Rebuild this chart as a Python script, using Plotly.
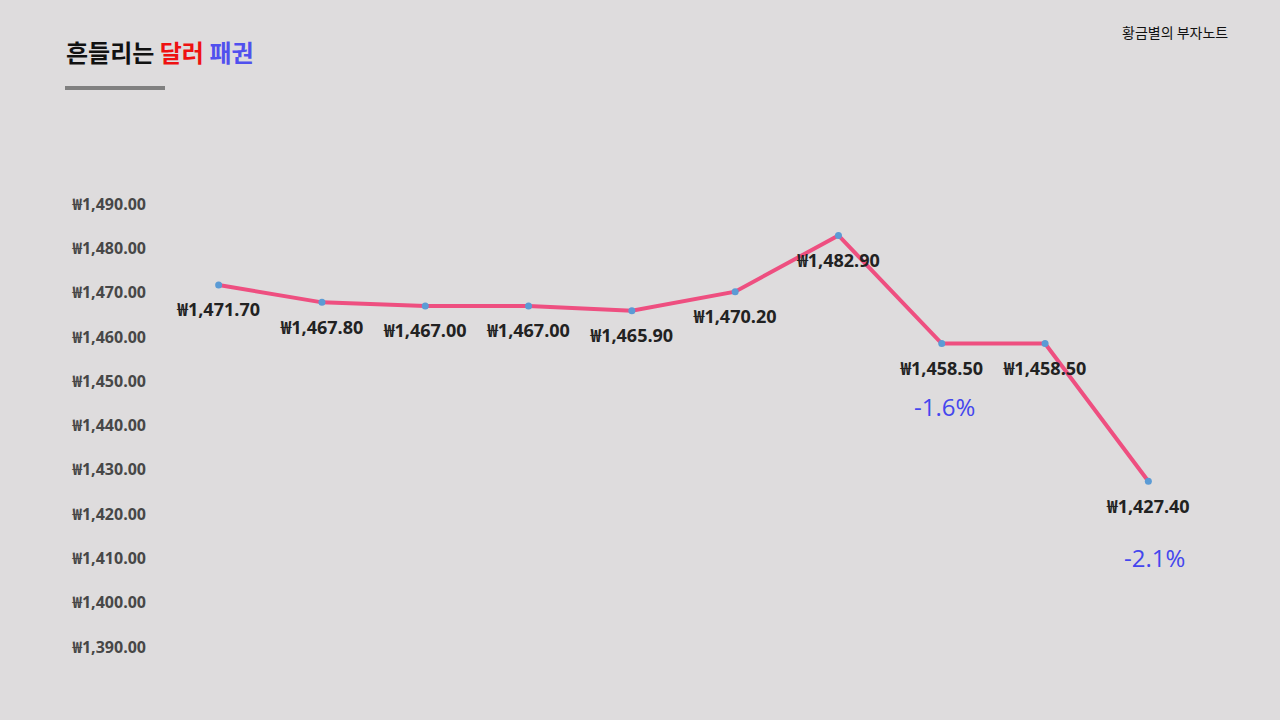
import plotly.graph_objects as go

idx = list(range(10))
values = [1471.70, 1467.80, 1467.00, 1467.00, 1465.90, 1470.20, 1482.90, 1458.50, 1458.50, 1427.40]
labels = ["₩{:,.2f}".format(v) for v in values]
tick_vals = [1390, 1400, 1410, 1420, 1430, 1440, 1450, 1460, 1470, 1480, 1490]
tick_text = ["₩{:,.2f}".format(v) for v in tick_vals]
pct_x = [7.03, 9.06]
pct_y = [1444.4, 1410.3]
pct_text = ["-1.6%", "-2.1%"]

BG = "#DEDCDD"
FONT = "Noto Sans CJK KR"
NUMFONT = "Open Sans, Noto Sans CJK KR"

fig = go.Figure()
fig.add_trace(go.Scatter(
    x=idx, y=values, mode="lines+markers",
    line=dict(color="#EE4F80", width=4),
    marker=dict(color="#5B9BD5", size=7),
    cliponaxis=False, hoverinfo="skip",
))
# value labels (invisible larger markers push the text further below the points)
fig.add_trace(go.Scatter(
    x=idx, y=values, mode="markers+text",
    marker=dict(color="rgba(0,0,0,0)", size=27),
    text=labels, textposition="bottom center",
    textfont=dict(family=NUMFONT, size=18, color="#222222", weight=700),
    cliponaxis=False, hoverinfo="skip",
))

for xi, yi, t in zip(pct_x, pct_y, pct_text):
    fig.add_annotation(x=xi, y=yi, text=t, showarrow=False,
                       font=dict(family=NUMFONT, size=24, color="#4446EE"))

fig.add_annotation(xref="paper", yref="paper", x=(64 - 167) / 1033, y=(647 - 51) / 443,
                   xanchor="left", yanchor="middle", showarrow=False,
                   text="<b>흔들리는 <span style='color:#EE1111'>달러</span> <span style='color:#5050EE'>패권</span></b>",
                   font=dict(family=FONT, size=24, color="#111111"))

fig.add_annotation(xref="paper", yref="paper", x=(1175 - 167) / 1033, y=(647 - 32) / 443,
                   xanchor="center", yanchor="middle", showarrow=False,
                   text="황금별의 부자노트",
                   font=dict(family=FONT, size=14, color="#111111"))

fig.add_shape(type="line", xref="paper", yref="paper",
              x0=(65 - 167) / 1033, x1=(165 - 167) / 1033,
              y0=(647 - 88) / 443, y1=(647 - 88) / 443,
              line=dict(color="#808080", width=4))

fig.update_layout(
    width=1280, height=720,
    paper_bgcolor=BG, plot_bgcolor=BG,
    margin=dict(l=167, r=80, t=204, b=73),
    showlegend=False,
    hovermode=False,
    xaxis=dict(range=[-0.5, 9.5], visible=False, showgrid=False, zeroline=False),
    yaxis=dict(range=[1390, 1490], tickvals=tick_vals, ticktext=tick_text,
               showgrid=False, zeroline=False, showline=False, ticks="",
               ticklabelstandoff=20,
               tickfont=dict(family=NUMFONT, size=16, color="#474747", weight=700)),
)

fig.write_html("out.html", config={"displayModeBar": False},
               post_script="document.body.style.margin='0px';document.body.style.background='#DEDCDD';")
